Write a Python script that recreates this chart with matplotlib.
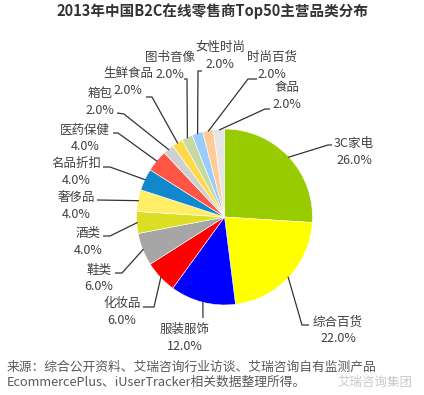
import math
import matplotlib
matplotlib.use("Agg")
import matplotlib.pyplot as plt

plt.rcParams['font.family'] = ['Noto Sans CJK SC', 'DejaVu Sans']

# ---- data ----
categories = ["3C家电", "综合百货", "服装服饰", "化妆品", "鞋类", "酒类", "奢侈品",
              "名品折扣", "医药保健", "箱包", "生鲜食品", "图书音像", "女性时尚",
              "时尚百货", "食品"]
shares = [26.0, 22.0, 12.0, 6.0, 6.0, 4.0, 4.0, 4.0, 4.0, 2.0, 2.0, 2.0, 2.0, 2.0, 2.0]
title = "2013年中国B2C在线零售商Top50主营品类分布"
source_lines = ["来源：综合公开资料、艾瑞咨询行业访谈、艾瑞咨询自有监测产品",
                "EcommercePlus、iUserTracker相关数据整理所得。"]
watermark = "艾瑞咨询集团"

# ---- styles / layout ----
colors = ["#99CC00", "#FFFF00", "#0000FF", "#FF0000", "#A6A6A6", "#DBDE22",
          "#FFEE66", "#1188CC", "#FF5544", "#D0D0D0", "#FFD94A", "#C6D9A0",
          "#99CCFF", "#FFCC99", "#E6E6E6"]
W, H = 424, 395
CX, CY, R = 224.5, 217, 88
# label name centre (top-down pixels) and leader-line points from label towards the pie
label_pos = [(354, 143), (338, 322), (185, 329), (122, 303), (99, 270), (88, 233),
             (76, 197), (76, 163), (85, 130), (100, 93), (128, 73), (170, 57),
             (220, 47), (272, 57), (287, 88)]
line_pts = [[(332, 145), (328, 145)], [(309, 325), (302, 325)], [(203, 318)],
            [(143, 307), (154, 307)], [(115, 273), (122, 273)], [(103, 236), (110, 236)],
            [(97, 200)], [(103, 167), (110, 167)], [(113, 133), (118, 133)],
            [(117, 113), (124, 114)], [(146, 97), (152, 97)], [(184, 79), (187, 79)],
            [(202, 71), (198, 71)], [(257, 79), (248, 79)], [(270, 109), (265, 109)]]
text_color = "#404040"

fig = plt.figure(figsize=(W / 100, H / 100), dpi=100)
ax = fig.add_axes([0, 0, 1, 1])
ax.set_xlim(0, W)
ax.set_ylim(0, H)
ax.set_aspect('equal')
ax.axis('off')


def Y(y):
    return H - y


wedges, _ = ax.pie(shares, colors=colors, startangle=90, counterclock=False,
                   center=(CX, Y(CY)), radius=R,
                   wedgeprops=dict(edgecolor='white', linewidth=0.4))
ax.set_xlim(0, W)
ax.set_ylim(0, H)

for w, name, val, (lx, ly), pts in zip(wedges, categories, shares, label_pos, line_pts):
    mid = math.radians((w.theta1 + w.theta2) / 2)
    ax_x = w.center[0] + w.r * 0.99 * math.cos(mid)
    ax_y = w.center[1] + w.r * 0.99 * math.sin(mid)
    xs = [p[0] for p in pts] + [ax_x]
    ys = [Y(p[1]) for p in pts] + [ax_y]
    ax.plot(xs, ys, color="#333333", lw=0.9, solid_capstyle='butt')
    ax.text(lx, Y(ly), name, ha='center', va='center', fontsize=9, color=text_color)
    ax.text(lx, Y(ly + 17), f"{val:.1f}%", ha='center', va='center', fontsize=9,
            color=text_color)

ax.text(212, Y(11), title, ha='center', va='center', fontsize=10.5,
        fontweight='bold', color="#333333")
ax.text(7, Y(367), source_lines[0], ha='left', va='center', fontsize=9.2, color="#595959")
ax.text(7, Y(382), source_lines[1], ha='left', va='center', fontsize=9.2, color="#595959")
ax.text(412, Y(382), watermark, ha='right', va='center', fontsize=9,
        color="#C8C8C8")

fig.savefig("out.png", dpi=100)
